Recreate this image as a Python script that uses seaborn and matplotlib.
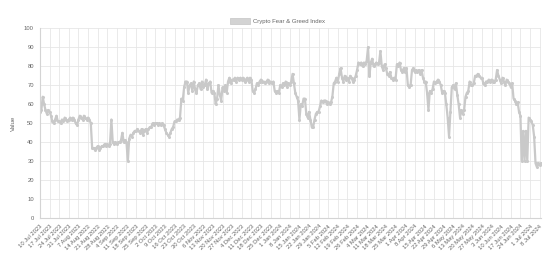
import matplotlib
matplotlib.use("Agg")
import matplotlib.pyplot as plt
from matplotlib.patches import Patch
import seaborn as sns
import pandas as pd
import numpy as np

start_date = "2023-07-10"
values = [
    56, 57, 64, 60, 57, 55, 57, 56,
    54, 51, 50, 52, 54, 51, 51, 50,
    52, 51, 53, 52, 51, 52, 53, 52,
    53, 52, 50, 49, 52, 54, 53, 52,
    54, 53, 52, 53, 52, 50, 37, 37,
    36, 37, 38, 36, 37, 38, 38, 39,
    38, 39, 38, 39, 52, 40, 39, 40,
    39, 40, 40, 41, 45, 40, 41, 40,
    30, 42, 44, 43, 45, 46, 46, 47,
    46, 45, 47, 44, 46, 47, 45, 47,
    48, 48, 50, 49, 50, 50, 49, 50,
    49, 50, 49, 47, 45, 44, 43, 45,
    47, 48, 51, 51, 52, 52, 53, 63,
    62, 69, 72, 72, 66, 70, 71, 67,
    72, 68, 66, 70, 71, 68, 72, 69,
    70, 73, 68, 71, 72, 66, 67, 66,
    60, 63, 70, 65, 62, 69, 67, 70,
    66, 72, 74, 71, 73, 73, 74, 72,
    74, 73, 74, 73, 74, 72, 73, 74,
    72, 74, 73, 67, 66, 68, 71, 70,
    72, 73, 72, 72, 71, 72, 73, 71,
    72, 71, 72, 67, 66, 67, 66, 70,
    69, 71, 70, 72, 69, 71, 70, 72,
    76, 71, 66, 64, 62, 52, 60, 59,
    63, 63, 55, 53, 56, 52, 48, 48,
    52, 55, 56, 56, 59, 62, 61, 62,
    62, 60, 61, 60, 61, 64, 71, 72,
    74, 72, 76, 79, 74, 72, 75, 73,
    74, 72, 75, 74, 72, 73, 75, 78,
    82, 81, 82, 80, 82, 81, 83, 90,
    75, 82, 84, 80, 81, 82, 81, 82,
    88, 80, 78, 81, 79, 76, 75, 77,
    74, 73, 74, 73, 81, 80, 82, 78,
    77, 79, 77, 79, 70, 69, 70, 78,
    79, 77, 78, 77, 78, 76, 78, 74,
    72, 72, 66, 57, 67, 66, 68, 72,
    71, 72, 73, 72, 70, 66, 67, 66,
    60, 53, 43, 56, 69, 70, 68, 71,
    65, 60, 53, 57, 55, 57, 64, 66,
    67, 72, 70, 70, 71, 75, 75, 76,
    75, 74, 74, 71, 70, 72, 72, 73,
    72, 73, 72, 72, 73, 78, 75, 73,
    71, 74, 72, 70, 73, 72, 71, 69,
    71, 63, 62, 60, 61, 56, 54, 30,
    46, 30, 46, 30, 53, 52, 51, 49,
    43, 29, 27, 29, 28, 29,
]
series_label = "Crypto Fear & Greed Index"
y_label = "Value"

dates = pd.date_range(start_date, periods=len(values), freq="D")
df = pd.DataFrame({"date": dates, "value": values})

sns.set_theme(style="whitegrid")
plt.rcParams["font.family"] = ["Liberation Sans", "DejaVu Sans"]

fig = plt.figure(figsize=(5.6, 2.65), dpi=100)
ax = fig.add_axes([40 / 560, 1 - 218.3 / 265, 501 / 560, 190 / 265])
ax.set_facecolor("white")

line_color = "#c9c9c9"
sns.lineplot(data=df, x="date", y="value", ax=ax, color=line_color,
             linewidth=1.6, marker="o", markersize=2.2, markeredgewidth=0,
             markerfacecolor=line_color)

ax.set_xlim(dates[0], dates[-1])
ax.set_ylim(0, 100)
ax.set_yticks(np.arange(0, 101, 10))

tick_dates = dates[::7]
ax.set_xticks(tick_dates)
ax.set_xticklabels([f"{d.day} {d.strftime('%b %Y')}" for d in tick_dates],
                   rotation=45, ha="right", va="top", rotation_mode="anchor")

grid_c = "#e6e6e6"
ax.grid(True, color=grid_c, linewidth=0.6)
for s in ["top", "right"]:
    ax.spines[s].set_visible(False)
for s in ["left", "bottom"]:
    ax.spines[s].set_color("#d4d4d4")
    ax.spines[s].set_linewidth(0.8)

ax.tick_params(axis="both", labelsize=4.2, labelcolor="#666666",
               color=grid_c, length=3, width=0.6, pad=1.5)
ax.tick_params(axis="x", pad=1.0)
ax.set_xlabel("")
ax.set_ylabel(y_label, fontsize=4.5, color="#666666", labelpad=6)

handle = Patch(facecolor="#d3d3d3", edgecolor="#cbcbcb", linewidth=0.6)
fig.legend([handle], [series_label], loc="center",
           bbox_to_anchor=(277.5 / 560, 1 - 20.7 / 265), frameon=False,
           fontsize=4.3, labelcolor="#666666", handlelength=3.4,
           handleheight=1.15, handletextpad=0.4)

fig.savefig("out.png", dpi=100)
